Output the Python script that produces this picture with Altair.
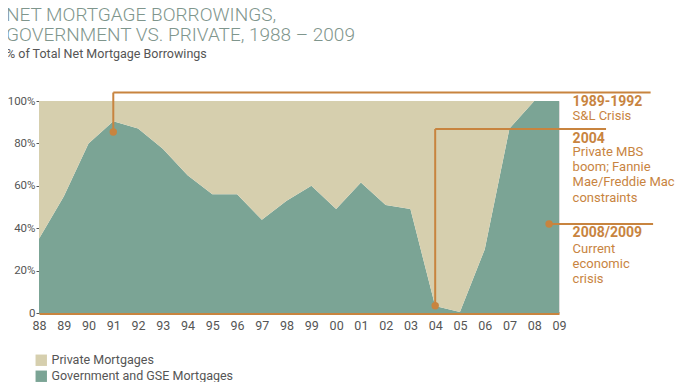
import altair as alt
import pandas as pd

# ---- data ----
years = list(range(1988, 2010))
gov_share = [35, 55, 80, 90.5, 87, 77.5, 65, 56, 56, 44, 53, 60, 49, 61.5, 51, 49, 3.3, 0.5, 30, 87, 100, 100]
series_names = ["Private Mortgages", "Government and GSE Mortgages"]
series_colors = ["#D6CFAE", "#7BA495"]

x_tick_years = years
y_tick_values = [0, 20, 40, 60, 80, 100]

# annotations (in data units: year, % share)
ann_year = [1991, 2004, 2008.6]
ann_value = [85.4, 3.4, 42.0]
ann_line_value = [104.0, 86.8, 42.0]
ann_line_end = [2012.7, 2010.9, 2012.8]
ann_text_x = [2009.55, 2009.55, 2009.55]
ann_head = ["1989-1992", "2004", "2008/2009"]
ann_head_y = [103.0, 85.3, 41.0]
ann_body = ["S&L Crisis",
            "Private MBS\nboom; Fannie\nMae/Freddie Mac\nconstraints",
            "Current\neconomic\ncrisis"]
ann_body_y = [95.6, 78.9, 33.2]

ORANGE = "#C8843F"
FONT = "Roboto, sans-serif"

rows = []
for y, g in zip(years, gov_share):
    rows.append({"year": y, "series": series_names[1], "share": g, "ord": 0})
    rows.append({"year": y, "series": series_names[0], "share": 100 - g, "ord": 1})
df = pd.DataFrame(rows)

ann = pd.DataFrame({
    "year": ann_year, "value": ann_value, "line_value": ann_line_value,
    "line_end": ann_line_end, "tx": ann_text_x,
    "head": ann_head, "head_y": ann_head_y, "body": ann_body, "body_y": ann_body_y,
})

xscale = alt.Scale(domain=[1988, 2009], nice=False, zero=False)
yscale = alt.Scale(domain=[0, 100], nice=False)

xaxis = alt.Axis(values=x_tick_years, labelExpr="substring(toString(datum.value), 2)",
                 ticks=False, grid=False, domainColor=ORANGE, domainWidth=3,
                 labelColor="#555555", labelFontSize=12.5, labelPadding=6, labelFont=FONT,
                 labelFlush=False, labelOverlap=False, labelSeparation=0, title=None)
yaxis = alt.Axis(values=y_tick_values,
                 labelExpr="datum.value == 0 ? '0' : datum.value + '%'",
                 tickSize=3, tickColor="#555555", tickWidth=1, domain=False, grid=False,
                 labelColor="#555555", labelFontSize=11.5, labelPadding=1, labelFont=FONT,
                 labelOverlap=False, title=None)

X = lambda f: alt.X(f, scale=xscale, axis=xaxis, title=None)
Y = lambda f, **kw: alt.Y(f, scale=yscale, axis=yaxis, title=None, **kw)

area = alt.Chart(df).mark_area(opacity=1, line=False, interpolate="linear").encode(
    x=X("year:Q"),
    y=Y("share:Q", stack="zero"),
    color=alt.Color("series:N",
                    scale=alt.Scale(domain=series_names, range=series_colors),
                    legend=alt.Legend(title=None, orient="none", legendX=-4, legendY=253,
                                      symbolType="square", symbolSize=130, symbolStrokeWidth=0,
                                      labelFontSize=12.5, labelColor="#555555", labelFont=FONT,
                                      labelLimit=400, rowPadding=3, symbolOpacity=1)),
    order=alt.Order("ord:Q"),
)

vline = alt.Chart(ann.iloc[:2]).mark_rule(color=ORANGE, strokeWidth=2).encode(
    x=X("year:Q"), y=Y("value:Q"), y2="line_value:Q")
hline = alt.Chart(ann).mark_rule(color=ORANGE, strokeWidth=2).encode(
    x=X("year:Q"), x2="line_end:Q", y=Y("line_value:Q"))
dots = alt.Chart(ann).mark_circle(color=ORANGE, size=55, opacity=1).encode(
    x=X("year:Q"), y=Y("value:Q"))
heads = alt.Chart(ann).mark_text(color=ORANGE, align="left", baseline="top",
                                 fontSize=14, fontWeight="bold", font=FONT).encode(
    x=X("tx:Q"), y=Y("head_y:Q"), text="head:N")
bodies = alt.Chart(ann).mark_text(color=ORANGE, align="left", baseline="top",
                                  fontSize=13, lineBreak="\n", lineHeight=15.3, font=FONT).encode(
    x=X("tx:Q"), y=Y("body_y:Q"), text="body:N")

chart = alt.layer(area, vline, hline, dots, heads, bodies).properties(
    width=520, height=212,
    autosize=alt.AutoSizeParams(type="none"),
    padding={"left": 31, "top": 93, "right": 120, "bottom": 69},
    title=alt.TitleParams(
        text=["NET MORTGAGE BORROWINGS,", "GOVERNMENT VS. PRIVATE, 1988 – 2009"],
        subtitle="% of Total Net Mortgage Borrowings",
        anchor="start", frame="group", dx=-33, offset=31,
        font=FONT, fontSize=19, fontWeight=300, color="#7F968D", lineHeight=20,
        subtitleFont=FONT, subtitleFontSize=12.5, subtitleColor="#555555", subtitlePadding=3,
    ),
).configure_view(stroke=None).configure(background="white")

chart.save("out.html", embed_options={"renderer": "svg", "actions": False})
